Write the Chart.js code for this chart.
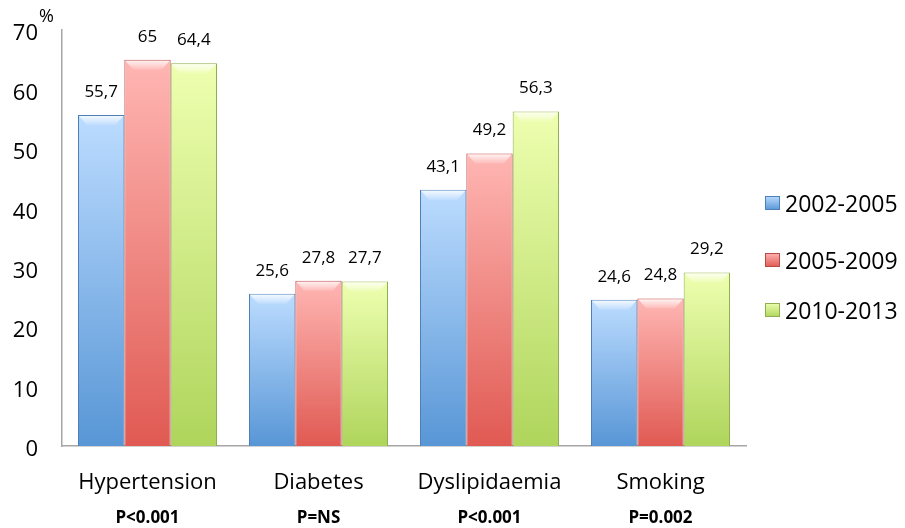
<!DOCTYPE html>
<html>
<head>
<meta charset="utf-8">
<script src="https://cdn.jsdelivr.net/npm/chart.js@4.4.1/dist/chart.umd.min.js"></script>
<style>
  html, body { margin: 0; padding: 0; background: #fff; }
  #wrap { width: 905px; height: 528px; position: relative; }
</style>
</head>
<body>
<div id="wrap"><canvas id="chart"></canvas></div>
<script>
// data
const categories = ['Hypertension', 'Diabetes', 'Dyslipidaemia', 'Smoking'];
const pValues = ['P<0.001', 'P=NS', 'P<0.001', 'P=0.002'];
const seriesNames = ['2002-2005', '2005-2009', '2010-2013'];
const values2002 = [55.7, 25.6, 43.1, 24.6];
const values2005 = [65, 27.8, 49.2, 24.8];
const values2010 = [64.4, 27.7, 56.3, 29.2];
const yTicks = [0, 10, 20, 30, 40, 50, 60, 70];

const FONT = "'Open Sans', sans-serif";

// light top / dark bottom, border
const palette = [
    { top: '#bcdcff', bottom: '#5896d6', border: '#4f7fb8' },
    { top: '#ffb6b3', bottom: '#e05a53', border: '#b84a46' },
    { top: '#eeffb0', bottom: '#afd55c', border: '#8fae52' }
];

function barGradient(idx) {
    return function(ctx) {
        const chart = ctx.chart;
        if (!chart.chartArea || ctx.parsed === undefined) return palette[idx].bottom;
        const y = chart.scales.y;
        const top = y.getPixelForValue(ctx.parsed.y);
        const bottom = y.getPixelForValue(0);
        const g = chart.ctx.createLinearGradient(0, top, 0, bottom);
        g.addColorStop(0, palette[idx].top);
        g.addColorStop(1, palette[idx].bottom);
        return g;
    };
}

const fmt = v => String(v).replace('.', ',');

// value labels above bars, y tick labels, x labels and the legend
const decorations = {
    id: 'decorations',
    afterDatasetsDraw(chart) {
        const ctx = chart.ctx;
        ctx.save();

        // small bevel highlight along the top of every bar
        chart.data.datasets.forEach((ds, i) => {
            chart.getDatasetMeta(i).data.forEach(bar => {
                const half = bar.width / 2;
                const l = bar.x - half + 1, r = bar.x + half - 1, t = bar.y + 1;
                const g = ctx.createLinearGradient(0, t, 0, t + 9);
                g.addColorStop(0, 'rgba(255,255,255,0.8)');
                g.addColorStop(1, 'rgba(255,255,255,0.1)');
                ctx.fillStyle = g;
                ctx.beginPath();
                ctx.moveTo(l, t);
                ctx.lineTo(r, t);
                ctx.lineTo(r - 8, t + 9);
                ctx.lineTo(l + 8, t + 9);
                ctx.closePath();
                ctx.fill();
            });
        });

        ctx.fillStyle = '#000';
        ctx.textAlign = 'center';
        ctx.textBaseline = 'middle';
        ctx.font = '17px ' + FONT;
        chart.data.datasets.forEach((ds, i) => {
            chart.getDatasetMeta(i).data.forEach((bar, j) => {
                ctx.fillText(fmt(ds.data[j]), bar.x, bar.y - 23);
            });
        });

        // y tick labels (sit a little below their ticks in the original)
        const ys = chart.scales.y;
        ctx.textAlign = 'right';
        ctx.font = '22px ' + FONT;
        yTicks.forEach(t => {
            ctx.fillText(String(t), 38, ys.getPixelForValue(t) + 4);
        });
        ctx.textAlign = 'left';
        ctx.font = '18px ' + FONT;
        ctx.fillText('%', 39, 17);

        // category labels with p values
        const xs = chart.scales.x;
        ctx.textAlign = 'center';
        categories.forEach((c, i) => {
            const x = xs.getPixelForValue(i);
            ctx.font = '22px ' + FONT;
            ctx.fillText(c, x, 483);
            ctx.font = 'bold 17px ' + FONT;
            ctx.fillText(pValues[i], x, 518);
        });

        // legend
        ctx.textAlign = 'left';
        ctx.font = '23px ' + FONT;
        const legendY = [203, 260, 310];
        chart.data.datasets.forEach((ds, i) => {
            const y = legendY[i];
            const g = ctx.createLinearGradient(0, y - 7, 0, y + 7);
            g.addColorStop(0, palette[i].top);
            g.addColorStop(1, palette[i].bottom);
            ctx.fillStyle = g;
            ctx.fillRect(765, y - 7, 15, 14);
            ctx.strokeStyle = palette[i].border;
            ctx.lineWidth = 1;
            ctx.strokeRect(765.5, y - 6.5, 14, 13);
            ctx.fillStyle = '#000';
            ctx.fillText(ds.label, 785, y + 2);
        });
        ctx.restore();
    }
};

new Chart(document.getElementById('chart'), {
    type: 'bar',
    data: {
        labels: categories,
        datasets: [
            { label: seriesNames[0], data: values2002, backgroundColor: barGradient(0), borderColor: palette[0].border },
            { label: seriesNames[1], data: values2005, backgroundColor: barGradient(1), borderColor: palette[1].border },
            { label: seriesNames[2], data: values2010, backgroundColor: barGradient(2), borderColor: palette[2].border }
        ]
    },
    options: {
        responsive: true,
        maintainAspectRatio: false,
        animation: false,
        devicePixelRatio: 1,
        layout: { padding: { left: 62, top: 30, right: 159, bottom: 82 } },
        datasets: {
            bar: { borderWidth: 1, categoryPercentage: 0.813, barPercentage: 1 }
        },
        plugins: {
            legend: { display: false },
            tooltip: { enabled: false }
        },
        scales: {
            x: {
                grid: { display: false, drawTicks: false },
                border: { display: true, color: '#a6a6a6', width: 1.5 },
                ticks: { display: false }
            },
            y: {
                min: 0,
                max: 70,
                grid: { display: false, drawTicks: false },
                border: { display: true, color: '#a6a6a6', width: 1.5 },
                ticks: { display: false, stepSize: 10 }
            }
        }
    },
    plugins: [decorations]
});
</script>
</body>
</html>
